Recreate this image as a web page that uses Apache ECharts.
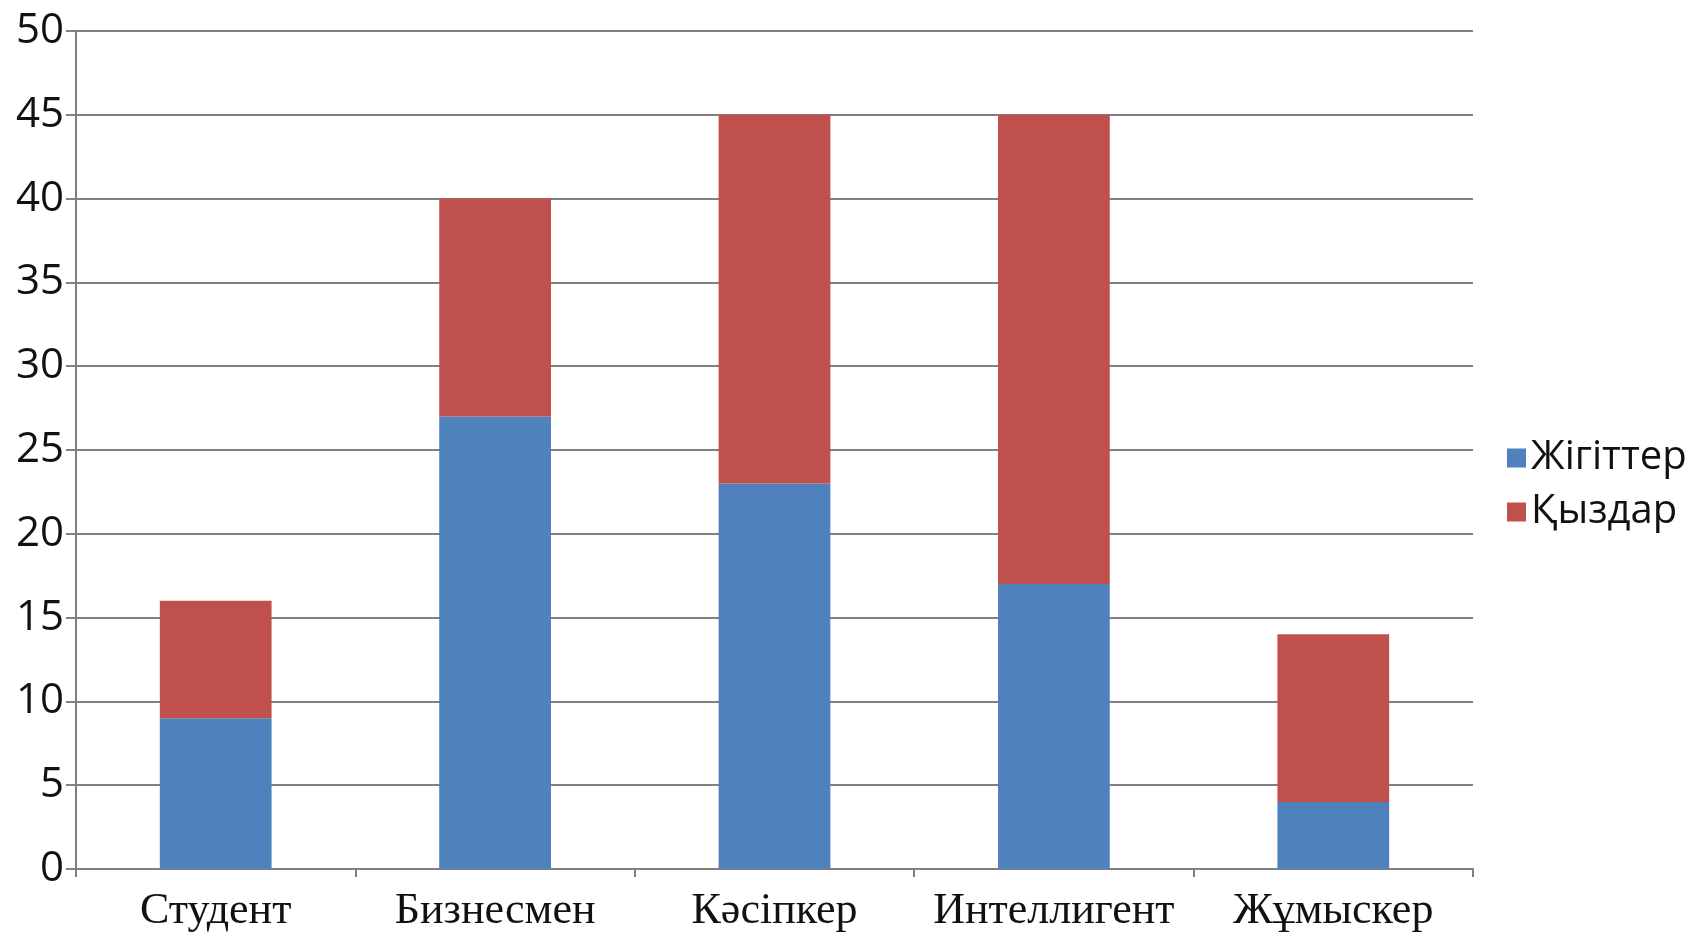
<!DOCTYPE html>
<html>
<head>
<meta charset="utf-8">
<script src="https://cdn.jsdelivr.net/npm/echarts@6/dist/echarts.min.js"></script>
<style>
html,body{margin:0;padding:0;background:#fff;}
#chart{width:1692px;height:932px;}
</style>
</head>
<body>
<div id="chart"></div>
<script>
var categories = ['Студент', 'Бизнесмен', 'Кәсіпкер', 'Интеллигент', 'Жұмыскер'];
var boys = [9, 27, 23, 17, 4];
var girls = [7, 13, 22, 28, 10];
var seriesNames = ['Жігіттер', 'Қыздар'];

var chart = echarts.init(document.getElementById('chart'));
var option = {
	animation: false,
	color: ['#4F81BD', '#C0504D'],
	grid: {
		left: 76,
		right: 219,
		top: 31,
		bottom: 63,
		containLabel: false,
		outerBoundsMode: 'none'
	},
	legend: {
		orient: 'vertical',
		left: 1502,
		top: 433,
		icon: 'rect',
		itemWidth: 19,
		itemHeight: 19,
		itemGap: 14,
		textStyle: {
			fontFamily: 'Open Sans',
			fontSize: 40,
			color: '#111'
		},
		data: seriesNames
	},
	xAxis: {
		type: 'category',
		data: categories,
		axisLine: {lineStyle: {color: '#808080', width: 2}},
		axisTick: {show: true, length: 8, lineStyle: {color: '#808080', width: 2}},
		axisLabel: {
			fontFamily: 'Liberation Serif',
			fontSize: 44,
			color: '#111',
			margin: 20,
			interval: 0
		}
	},
	yAxis: {
		type: 'value',
		min: 0,
		max: 50,
		interval: 5,
		axisLine: {show: true, lineStyle: {color: '#808080', width: 2}},
		axisTick: {show: true, length: 10, lineStyle: {color: '#808080', width: 2}},
		splitLine: {lineStyle: {color: '#808080', width: 2}},
		axisLabel: {
			fontFamily: 'Open Sans',
			fontSize: 42,
			color: '#111',
			margin: 12
		}
	},
	series: [
		{
			name: seriesNames[0],
			type: 'bar',
			stack: 'total',
			barWidth: '40%',
			data: boys
		},
		{
			name: seriesNames[1],
			type: 'bar',
			stack: 'total',
			barWidth: '40%',
			data: girls
		}
	]
};
chart.setOption(option);
</script>
</body>
</html>
